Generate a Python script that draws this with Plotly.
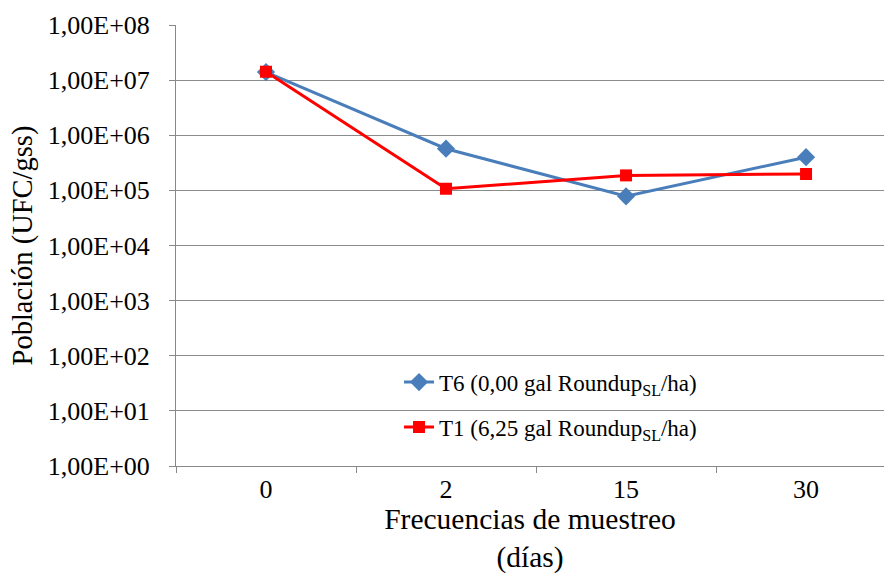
import plotly.graph_objects as go

dias = ["0", "2", "15", "30"]
t6_vals = [1.40e7, 5.7e5, 7.8e4, 4.0e5]
t1_vals = [1.42e7, 1.07e5, 1.87e5, 1.98e5]
t6_name = "T6 (0,00 gal Roundup<sub>SL</sub>/ha)"
t1_name = "T1 (6,25 gal Roundup<sub>SL</sub>/ha)"
y_tickvals = [1e0, 1e1, 1e2, 1e3, 1e4, 1e5, 1e6, 1e7, 1e8]
y_ticktext = ["1,00E+00", "1,00E+01", "1,00E+02", "1,00E+03", "1,00E+04",
              "1,00E+05", "1,00E+06", "1,00E+07", "1,00E+08"]

FONT = "Times New Roman, Liberation Serif, DejaVu Serif, serif"

fig = go.Figure()
fig.add_trace(go.Scatter(
    x=dias, y=t6_vals, name=t6_name, mode="lines+markers",
    line=dict(color="#4A7EBB", width=3),
    marker=dict(symbol="diamond", size=14, color="#4A7EBB"),
    legendgroup="a",
))
fig.add_trace(go.Scatter(
    x=dias, y=t1_vals, name=t1_name, mode="lines+markers",
    line=dict(color="#FF0000", width=3),
    marker=dict(symbol="square", size=12, color="#FF0000"),
    legendgroup="b",
))

fig.update_layout(
    width=884, height=574,
    margin=dict(l=176, r=0, t=25, b=108),
    paper_bgcolor="white", plot_bgcolor="white",
    font=dict(family=FONT, size=23, color="black"),
    showlegend=True,
    legend=dict(
        x=0.315, y=0.239, xanchor="left", yanchor="top",
        bgcolor="rgba(0,0,0,0)", borderwidth=0,
        font=dict(family=FONT, size=23),
        traceorder="grouped", tracegroupgap=12,
    ),
    xaxis=dict(
        type="category", range=[-0.5, 3.433],
        showline=True, linecolor="#888888", linewidth=1,
        ticks="outside", tickson="boundaries", ticklen=6, tickcolor="#888888",
        showgrid=False, zeroline=False,
        tickfont=dict(family=FONT, size=26),
        title=dict(text="Frecuencias de muestreo<br>(días)",
                   font=dict(family=FONT, size=29.5), standoff=0),
    ),
    yaxis=dict(
        type="log", range=[0, 8],
        tickvals=y_tickvals, ticktext=y_ticktext,
        showline=True, linecolor="#888888", linewidth=1,
        ticks="outside", ticklen=6, tickcolor="#888888",
        showgrid=True, gridcolor="#8c8c8c", gridwidth=1.3,
        zeroline=False,
        tickfont=dict(family=FONT, size=26),
        ticklabelstandoff=14,
        title=dict(text="Población (UFC/gss)",
                   font=dict(family=FONT, size=28.5), standoff=6),
    ),
)

fig.write_html("out.html")
